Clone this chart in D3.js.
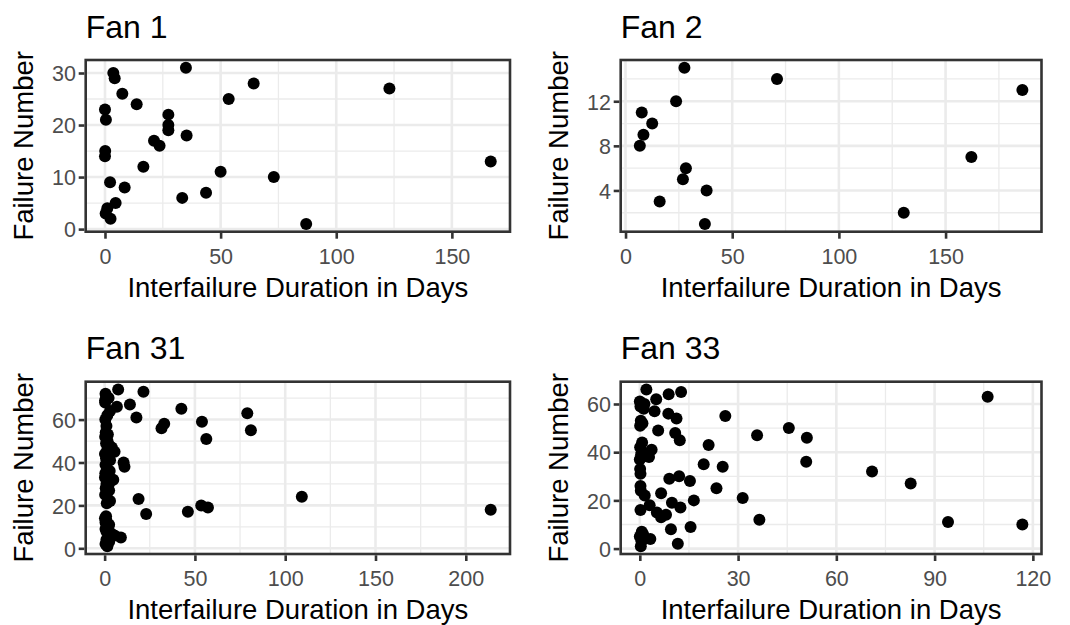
<!DOCTYPE html>
<html>
<head>
<meta charset="utf-8">
<script src="https://cdn.jsdelivr.net/npm/d3@7/dist/d3.min.js"></script>
<style>
  html, body { margin: 0; padding: 0; background: #ffffff; }
  svg { display: block; font-family: "Liberation Sans", Arial, sans-serif; }
</style>
</head>
<body>
<svg id="chart" width="1070" height="625"></svg>
<script>
// ---- Data: interfailure duration (days) against failure number, one set per fan ----
const fan1Failures = [1, 2, 3, 4, 5, 6, 7, 8, 9, 10, 11, 12, 13, 14, 15, 16, 17, 18, 19, 20,
  21, 22, 23, 24, 25, 26, 27, 28, 29, 30, 31];
const fan1Days = [87, 2.4, 0.3, 1, 4.6, 33.4, 43.7, 8.5, 2.2, 73, 50, 16.6, 166.8, 0, 0.1,
  23.6, 21.2, 35.3, 27.4, 27.4, 0.4, 27.4, 0, 13.7, 53.5, 7.5, 123, 64.3, 4.2, 3.6, 35];

const fan2Failures = [1, 2, 3, 4, 5, 6, 7, 8, 9, 10, 11, 12, 13, 14, 15];
const fan2Days = [37.2, 130.4, 16, 38, 26.9, 28.3, 162.1, 6.7, 8.4, 12.5, 7.6, 23.7, 186, 71, 27.6];

const fan31Failures = [1, 2, 3, 4, 5, 6, 7, 8, 9, 10, 11, 12, 13, 14, 15, 16, 17, 18, 19, 20,
  21, 22, 23, 24, 25, 26, 27, 28, 29, 30, 31, 32, 33, 34, 35, 36, 37, 38, 39, 40,
  41, 42, 43, 44, 45, 46, 47, 48, 49, 50, 51, 52, 53, 54, 55, 56, 57, 58, 59, 60,
  61, 62, 63, 64, 65, 66, 67, 68, 69, 70, 71, 72, 73, 74];
const fan31Days = [1.5, 0.5, 2.5, 1, 9, 5.5, 3.5, 1, 0.5, 2, 2.5, 0.5, 1, 0.2, 0.8, 23, 46.1, 213.8, 57.2, 53.5,
  1.2, 3, 18.8, 109.2, 0.3, 1.5, 2.5, 0.6, 2, 1, 3, 4.8, 0.2, 1.8, 0.4, 2.8, 1.2, 11, 0.5, 10.5,
  3, 0.8, 2.2, 0.2, 5.5, 1.5, 4, 2.5, 0.8, 1.6, 56.3, 0.3, 1.8, 0.6, 81, 31.5, 1, 33, 53.9, 0.4,
  17.6, 1.5, 79, 3, 42.5, 6.8, 14, 0.3, 0.3, 2.2, 0.8, 0.5, 21.5, 7.5];

const fan33Failures = [1, 2, 3, 4, 5, 6, 7, 8, 9, 10, 11, 12, 13, 14, 15, 16, 17, 18, 19, 20,
  21, 22, 23, 24, 25, 26, 27, 28, 29, 30, 31, 32, 33, 34, 35, 36, 37, 38, 39, 40,
  41, 42, 43, 44, 45, 46, 47, 48, 49, 50, 51, 52, 53, 54, 55, 56, 57, 58, 59, 60,
  61, 62, 63, 64, 65, 66];
const fan33Days = [0.3, 11.6, 0.5, 3.2, 0, 1, 0.6, 9.5, 15.5, 116.8, 94.1, 36.5, 6.5, 8, 5.2, 0.2, 12.4, 3, 9.8, 16.5,
  31.4, 1.5, 6.5, 0.3, 23.4, 0.2, 82.7, 15.3, 9, 12, 0.2, 70.9, 0.1, 25.3, 19.5, 50.8, 0, 2.8, 0.4, 0.6,
  3.6, 0.1, 21, 0.7, 12.2, 51, 35.8, 10.8, 5.6, 45.5, 0.1, 0.8, 0.3, 11.2, 26.1, 8.7, 4.5, 1.2, 0.2, 1.4,
  0, 5, 106.2, 8.8, 12.6, 2];

// ---- Axis breaks ----
const fan1XTicks = [0, 50, 100, 150];
const fan1XMinor = [25, 75, 125, 175];
const fan1YTicks = [0, 10, 20, 30];
const fan1YMinor = [5, 15, 25];

const fan2XTicks = [0, 50, 100, 150];
const fan2XMinor = [25, 75, 125, 175];
const fan2YTicks = [4, 8, 12];
const fan2YMinor = [2, 6, 10, 14];

const fan31XTicks = [0, 50, 100, 150, 200];
const fan31XMinor = [25, 75, 125, 175];
const fan31YTicks = [0, 20, 40, 60];
const fan31YMinor = [10, 30, 50, 70];

const fan33XTicks = [0, 30, 60, 90, 120];
const fan33XMinor = [15, 45, 75, 105];
const fan33YTicks = [0, 20, 40, 60];
const fan33YMinor = [10, 30, 50];

const panelTitles = ["Fan 1", "Fan 2", "Fan 31", "Fan 33"];
const xAxisTitle = "Interfailure Duration in Days";
const yAxisTitle = "Failure Number";

// ---- Panel layout (2 x 2 grid) ----
const colLeft = [85.7, 620.7];
const colRight = [510, 1041.5];
const rowTop = [60, 381.7];
const rowBottom = [231.7, 554];

const panels = [
  { title: panelTitles[0], x: fan1Days, y: fan1Failures, xt: fan1XTicks, xm: fan1XMinor, yt: fan1YTicks, ym: fan1YMinor, col: 0, row: 0 },
  { title: panelTitles[1], x: fan2Days, y: fan2Failures, xt: fan2XTicks, xm: fan2XMinor, yt: fan2YTicks, ym: fan2YMinor, col: 1, row: 0 },
  { title: panelTitles[2], x: fan31Days, y: fan31Failures, xt: fan31XTicks, xm: fan31XMinor, yt: fan31YTicks, ym: fan31YMinor, col: 0, row: 1 },
  { title: panelTitles[3], x: fan33Days, y: fan33Failures, xt: fan33XTicks, xm: fan33XMinor, yt: fan33YTicks, ym: fan33YMinor, col: 1, row: 1 }
];

// continuous scales padded by 5% on each side
function expanded(values) {
  const [lo, hi] = d3.extent(values);
  const pad = (hi - lo) * 0.05;
  return [lo - pad, hi + pad];
}

const svg = d3.select("#chart");
const GRID = "#EBEBEB";
const INK = "#333333";
const TICK_TEXT = "#4D4D4D";
const LINE_W = 2.6;
const TICK_LEN = 7;

panels.forEach(p => {
  const left = colLeft[p.col], right = colRight[p.col];
  const top = rowTop[p.row], bottom = rowBottom[p.row];
  const xs = d3.scaleLinear().domain(expanded(p.x)).range([left, right]);
  const ys = d3.scaleLinear().domain(expanded(p.y)).range([bottom, top]);
  const g = svg.append("g");

  // panel background
  g.append("rect").attr("x", left).attr("y", top)
    .attr("width", right - left).attr("height", bottom - top).attr("fill", "#ffffff");

  const inX = v => v >= xs.domain()[0] && v <= xs.domain()[1];
  const inY = v => v >= ys.domain()[0] && v <= ys.domain()[1];

  // minor grid
  g.append("g").selectAll("line").data(p.xm.filter(inX)).join("line")
    .attr("x1", d => xs(d)).attr("x2", d => xs(d)).attr("y1", top).attr("y2", bottom)
    .attr("stroke", GRID).attr("stroke-width", 1.3);
  g.append("g").selectAll("line").data(p.ym.filter(inY)).join("line")
    .attr("y1", d => ys(d)).attr("y2", d => ys(d)).attr("x1", left).attr("x2", right)
    .attr("stroke", GRID).attr("stroke-width", 1.3);

  // major grid
  g.append("g").selectAll("line").data(p.xt.filter(inX)).join("line")
    .attr("x1", d => xs(d)).attr("x2", d => xs(d)).attr("y1", top).attr("y2", bottom)
    .attr("stroke", GRID).attr("stroke-width", LINE_W);
  g.append("g").selectAll("line").data(p.yt.filter(inY)).join("line")
    .attr("y1", d => ys(d)).attr("y2", d => ys(d)).attr("x1", left).attr("x2", right)
    .attr("stroke", GRID).attr("stroke-width", LINE_W);

  // points
  const pts = p.x.map((d, i) => ({ days: d, failure: p.y[i] }));
  g.append("g").selectAll("circle").data(pts).join("circle")
    .attr("cx", d => xs(d.days)).attr("cy", d => ys(d.failure))
    .attr("r", 6).attr("fill", "#000000");

  // panel border
  g.append("rect").attr("x", left).attr("y", top)
    .attr("width", right - left).attr("height", bottom - top)
    .attr("fill", "none").attr("stroke", INK).attr("stroke-width", LINE_W);

  // axes
  const xAxis = g.append("g").attr("transform", `translate(0,${bottom})`)
    .call(d3.axisBottom(xs).tickValues(p.xt.filter(inX)).tickSize(TICK_LEN).tickSizeOuter(0));
  xAxis.select(".domain").remove();
  xAxis.selectAll(".tick line").attr("stroke", INK).attr("stroke-width", LINE_W)
    .attr("y1", LINE_W / 2);
  xAxis.selectAll(".tick text").attr("y", 32.3).attr("dy", null)
    .attr("fill", TICK_TEXT).style("font-size", "21.5px").style("font-family", "Liberation Sans, Arial, sans-serif");

  const yAxis = g.append("g").attr("transform", `translate(${left},0)`)
    .call(d3.axisLeft(ys).tickValues(p.yt.filter(inY)).tickSize(TICK_LEN).tickSizeOuter(0).tickPadding(2.7));
  yAxis.select(".domain").remove();
  yAxis.selectAll(".tick line").attr("stroke", INK).attr("stroke-width", LINE_W)
    .attr("x1", -LINE_W / 2);
  yAxis.selectAll(".tick text").attr("dy", "0.36em")
    .attr("fill", TICK_TEXT).style("font-size", "21.5px").style("font-family", "Liberation Sans, Arial, sans-serif");

  // titles
  g.append("text").attr("x", left).attr("y", top - 22.3)
    .attr("fill", "#000000").style("font-size", "32px").text(p.title);
  g.append("text").attr("x", (left + right) / 2).attr("y", bottom + 64.8)
    .attr("text-anchor", "middle").attr("fill", "#000000").style("font-size", "27.5px").text(xAxisTitle);
  g.append("text")
    .attr("transform", `translate(${left - 53.2},${(top + bottom) / 2}) rotate(-90)`)
    .attr("text-anchor", "middle").attr("fill", "#000000").style("font-size", "27.5px").text(yAxisTitle);
});
</script>
</body>
</html>
